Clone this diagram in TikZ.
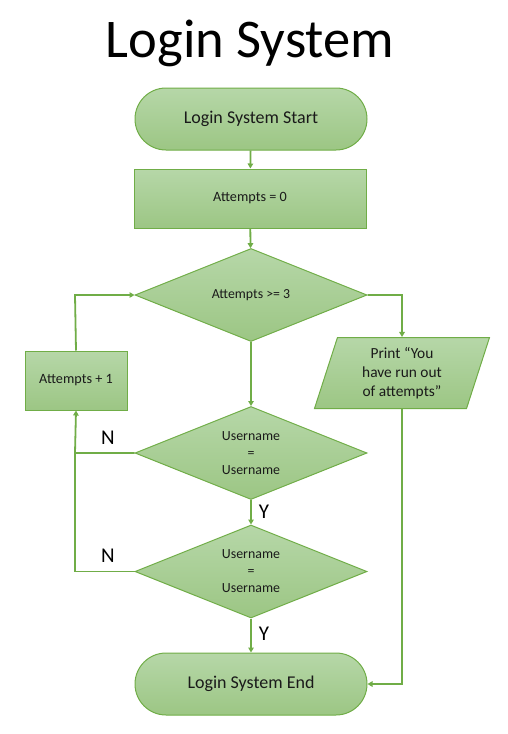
\documentclass[tikz,border=0pt]{standalone}
\usepackage{fontspec}
\setmainfont{Carlito}
\usetikzlibrary{shapes.geometric,arrows.meta}
\definecolor{gtop}{HTML}{B6D7A8}
\definecolor{gbot}{HTML}{9CC684}
\definecolor{gline}{HTML}{70AD47}
\definecolor{txt}{HTML}{1A1A1A}
\tikzset{
  box/.style={draw=gline, line width=1pt, top color=gtop, bottom color=gbot, text=txt, inner sep=0pt, align=center},
  terminal/.style={box, rectangle, rounded corners=31pt, minimum width=232pt, minimum height=62pt, font=\fontsize{18}{21}\selectfont},
  procbox/.style={box, rectangle, font=\fontsize{14.2}{17}\selectfont},
  decision/.style={box, diamond, aspect=2.5, minimum width=232pt, minimum height=93pt},
  iobox/.style={box, trapezium, trapezium left angle=66, trapezium right angle=114, minimum width=175pt, minimum height=71pt, trapezium stretches body, font=\fontsize{15.4}{19}\selectfont},
  conn/.style={draw=gline, line width=1.8pt},
  arr/.style={conn, -{Triangle[length=5pt,width=5.5pt]}},
  yn/.style={font=\fontsize{21}{24}\selectfont, text=black, inner sep=0pt},
}
\begin{document}
\begin{tikzpicture}[x=1pt,y=-1pt]
\useasboundingbox (0,0) rectangle (507,734);
\node[anchor=base, font=\fontsize{54.5}{60}\selectfont, text=black] (title) at (250,57) {Login System};
\node[terminal] (start) at (251,119) {Login System Start};
\node[procbox, minimum width=232pt, minimum height=59pt] (init) at (250,198.5) {Attempts = 0};
\node[decision, font=\fontsize{13.8}{16}\selectfont] (d1) at (251,295) {Attempts >= 3};
\node[procbox, minimum width=102pt, minimum height=59pt] (inc) at (76,380.5) {Attempts + 1};
\node[iobox] (print) at (402,373) {Print “You\\have run out\\of attempts”};
\node[decision, font=\fontsize{13.9}{17}\selectfont] (d2) at (251,453) {Username\\=\\Username};
\node[decision, font=\fontsize{13.9}{17}\selectfont] (d3) at (251,571.5) {Username\\=\\Username};
\node[terminal] (end) at (251,684) {Login System End};
\coordinate (c1) at (402,295);
\coordinate (c2) at (402,684);
\coordinate (c3) at (75,453);
\coordinate (c4) at (75,571.5);
\coordinate (c5) at (75,295);
\draw[arr] (start) -- (init);
\draw[arr] (init) -- (d1);
\draw[arr] (d1.east) -- (c1) -- (print.north);
\draw[arr] (print.south) -- (c2) -- (end.east);
\draw[arr] (d1) -- (d2);
\draw[arr] (d2) -- (d3);
\draw[arr] (d3) -- (end);
\draw[arr] (d2.west) -- (c3) -- (inc.south);
\draw[conn] (d3.west) -- (c4) -- (c3);
\draw[arr] (inc.north) -- (c5) -- (d1.west);
\node[yn] (n1) at (108,438) {N};
\node[yn] (n2) at (108,556) {N};
\node[yn] (y1) at (264,512) {Y};
\node[yn] (y2) at (264,634) {Y};
\end{tikzpicture}
\end{document}
